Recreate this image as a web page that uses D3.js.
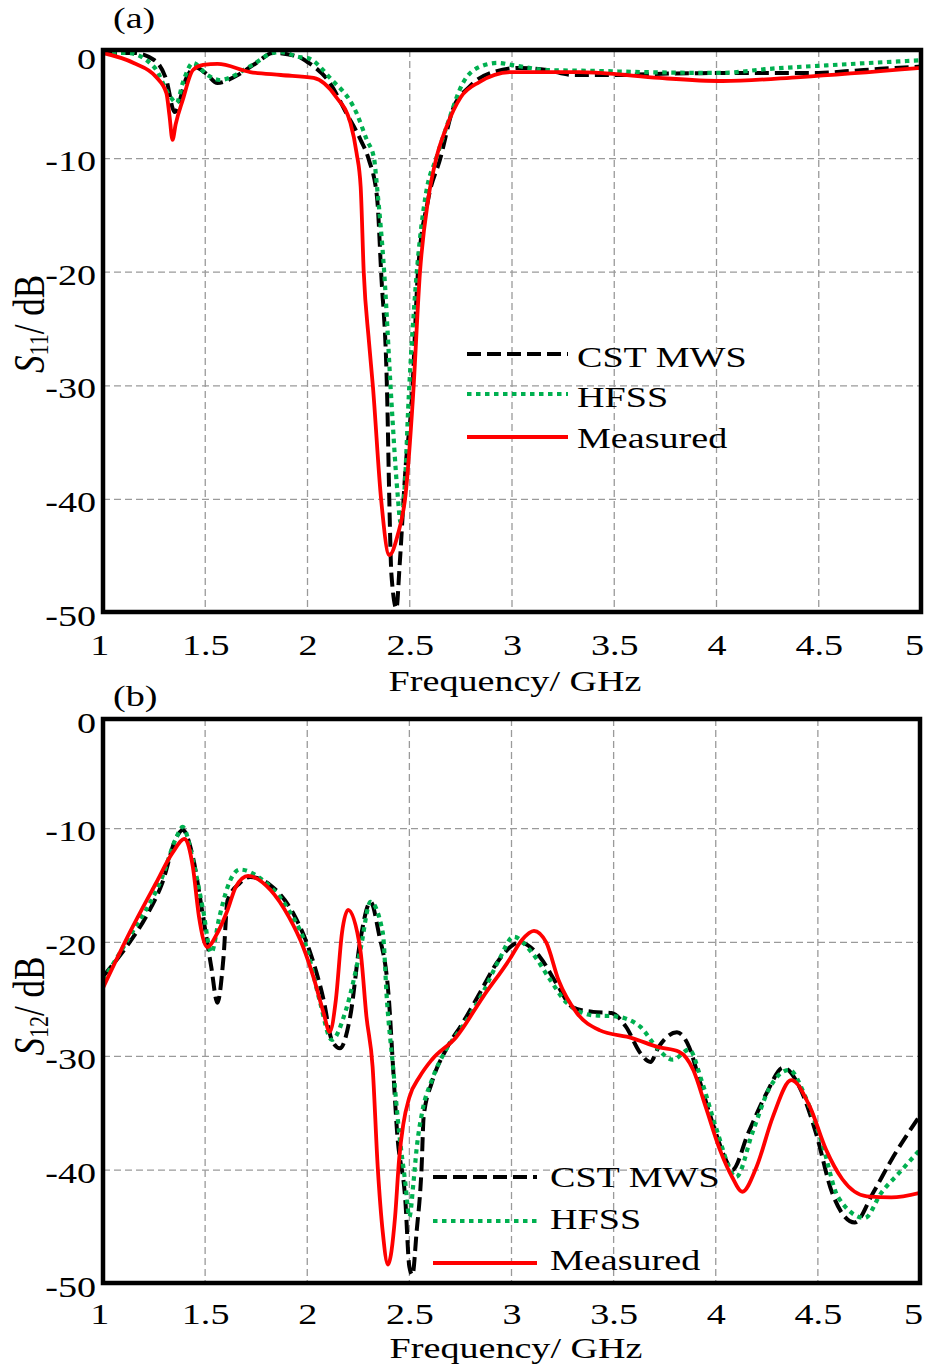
<!DOCTYPE html>
<html><head><meta charset="utf-8">
<script src="https://cdn.jsdelivr.net/npm/d3@7"></script>
<style>
body{margin:0;background:#fff}
text{font-family:"Liberation Serif","Times New Roman",serif;fill:#000}
</style>
</head><body>
<svg id="c" width="925" height="1369"></svg>
<script>
// ---------- tick labels / categories ----------
const xTicks = [1, 1.5, 2, 2.5, 3, 3.5, 4, 4.5, 5];
const xTickLabels = ["1", "1.5", "2", "2.5", "3", "3.5", "4", "4.5", "5"];
const yTicks = [0, -10, -20, -30, -40, -50];
const yTickLabels = ["0", "-10", "-20", "-30", "-40", "-50"];
const seriesNames = ["CST MWS", "HFSS", "Measured"];

// ---------- (a) S11 ----------
const s11CstFreq = [1.0,1.15,1.25,1.31,1.35,1.41,1.45,1.50,1.56,1.65,1.75,1.83,1.96,2.0,2.11,2.19,2.26,2.30,2.34,2.36,2.39,2.40,2.41,2.435,2.45,2.48,2.51,2.54,2.59,2.65,2.71,2.79,2.91,3.04,3.17,3.30,3.50,3.80,4.20,4.50,4.65,4.80,5.0];
const s11CstDb   = [-0.7,-0.7,-1.32,-3.08,-5.9,-2.82,-1.94,-2.46,-3.35,-2.73,-1.58,-0.7,-1.06,-1.5,-3.35,-6.0,-8.36,-10.1,-13.4,-20,-31.25,-40,-46.5,-49.6,-45.95,-37.1,-31.25,-20,-13.6,-9.95,-5.7,-3.7,-2.38,-2.02,-2.2,-2.64,-2.64,-2.5,-2.46,-2.46,-2.29,-2.1,-1.9];

const s11HfssFreq = [1.0,1.12,1.25,1.33,1.36,1.39,1.44,1.51,1.57,1.73,1.83,1.87,1.96,2.0,2.11,2.24,2.29,2.325,2.34,2.375,2.41,2.44,2.455,2.475,2.495,2.53,2.58,2.63,2.68,2.76,2.84,2.93,3.0,3.17,3.43,3.63,4.02,4.25,4.57,4.93,5.0];
const s11HfssDb   = [-0.7,-0.7,-1.94,-4.58,-5.1,-3.35,-1.58,-2.64,-3.08,-1.76,-0.7,-0.62,-1.06,-1.14,-2.9,-6.0,-8.36,-9.95,-12.5,-20,-31.25,-39.4,-42.0,-39,-31,-21,-13,-9.95,-7.2,-3.35,-1.94,-1.58,-1.76,-2.2,-2.29,-2.38,-2.46,-2.11,-1.76,-1.41,-1.35];

const s11MeasFreq = [1.0,1.15,1.26,1.31,1.325,1.34,1.355,1.39,1.44,1.49,1.56,1.72,1.87,2.03,2.14,2.21,2.24,2.26,2.275,2.30,2.32,2.36,2.40,2.44,2.48,2.515,2.55,2.59,2.63,2.68,2.75,2.84,3.0,3.33,3.43,3.72,4.03,4.41,5.0];
const s11MeasDb   = [-0.7,-1.58,-2.82,-4.23,-6.2,-8.36,-7.0,-4.84,-2.2,-1.76,-1.67,-2.38,-2.64,-2.9,-4.58,-6.87,-9.5,-12.5,-20,-26,-30.1,-40,-44.9,-43.2,-39.5,-31.25,-20,-13.6,-9.95,-7.2,-4.58,-3.26,-2.38,-2.38,-2.46,-2.9,-3.17,-2.82,-2.02];

// ---------- (b) S12 ----------
const s12CstFreq = [1.0,1.13,1.21,1.29,1.36,1.39,1.44,1.49,1.53,1.56,1.59,1.61,1.67,1.72,1.83,1.93,2.01,2.08,2.12,2.16,2.21,2.26,2.31,2.35,2.40,2.42,2.44,2.48,2.50,2.515,2.535,2.56,2.57,2.61,2.68,2.76,2.84,2.94,3.04,3.14,3.22,3.30,3.40,3.49,3.56,3.63,3.68,3.72,3.81,3.87,3.92,3.98,4.05,4.08,4.16,4.25,4.33,4.41,4.49,4.57,4.68,4.77,4.86,5.0];
const s12CstDb   = [-23.0,-20.0,-17.76,-14.78,-10.74,-10.12,-12.5,-17.76,-22.15,-25.3,-21.3,-16.3,-14.78,-14.25,-15.13,-17.4,-20.66,-25.05,-28.56,-29.3,-26.54,-19.78,-16.44,-19.17,-25.05,-30.93,-36.7,-42.6,-48.5,-49.2,-45.5,-39.7,-35.3,-32.3,-29.4,-27.1,-24.6,-21.5,-20.0,-21.3,-23.6,-25.7,-26.1,-26.2,-27.4,-29.7,-30.5,-29.2,-27.9,-29.2,-32.1,-35.6,-39.1,-40.0,-36.7,-33.2,-31.0,-32.7,-36.7,-42.0,-44.6,-42.0,-39.1,-35.2];

const s12HfssFreq = [1.0,1.13,1.29,1.36,1.39,1.44,1.49,1.53,1.57,1.61,1.67,1.78,1.90,2.0,2.06,2.12,2.19,2.26,2.31,2.37,2.39,2.42,2.45,2.48,2.50,2.52,2.535,2.565,2.61,2.68,2.76,2.86,2.94,3.01,3.10,3.19,3.27,3.40,3.51,3.63,3.71,3.79,3.87,3.93,4.0,4.10,4.18,4.26,4.36,4.44,4.52,4.60,4.73,4.81,4.90,5.0];
const s12HfssDb   = [-23.3,-19.5,-14.25,-10.74,-9.86,-12.76,-17.15,-20.9,-17.76,-15.13,-13.6,-14.5,-16.9,-20.66,-25.05,-28.56,-25.9,-20.66,-16.44,-19.17,-25.05,-30.93,-36.7,-41.1,-44.1,-41.1,-38.2,-34.7,-32.1,-29.4,-27.4,-24.4,-21.5,-19.5,-20.9,-23.3,-25.3,-26.4,-26.5,-27.4,-29.2,-30.3,-29.4,-32.1,-36.2,-40.6,-36.7,-32.9,-31.2,-33.6,-37.6,-42.4,-44.2,-42.0,-40.2,-38.2];

const s12MeasFreq = [1.0,1.13,1.26,1.34,1.40,1.44,1.47,1.51,1.56,1.61,1.65,1.71,1.82,1.91,1.98,2.03,2.08,2.11,2.14,2.17,2.20,2.26,2.29,2.32,2.345,2.37,2.395,2.43,2.45,2.47,2.50,2.55,2.61,2.73,2.86,2.99,3.05,3.11,3.17,3.23,3.32,3.43,3.59,3.72,3.82,3.89,3.95,4.02,4.08,4.13,4.20,4.28,4.37,4.46,4.54,4.62,4.74,4.86,5.0];
const s12MeasDb   = [-24.0,-19.17,-14.78,-12.14,-10.91,-13.37,-17.76,-20.4,-19.17,-17.15,-15.13,-14.16,-15.39,-17.76,-20.4,-23.03,-26.19,-27.86,-25.05,-19.17,-17.15,-20.66,-26.54,-30.93,-39.71,-45.5,-48.3,-44.1,-39.0,-36.0,-33.6,-31.8,-30.3,-28.3,-24.8,-21.5,-19.8,-18.98,-20.0,-23.3,-26.2,-27.7,-28.4,-29.2,-29.6,-31.2,-34.4,-38.2,-40.6,-41.9,-39.7,-35.3,-32.1,-34.4,-38.2,-40.8,-42.3,-42.4,-42.0];

// ---------- drawing ----------
const svg = d3.select("#c");
const SX = 1.27; // horizontal stretch of the original typography
const styles = [
  {stroke:"#000", width:4, dash:"14,6"},
  {stroke:"#00b050", width:4.2, dash:"4.5,4.5"},
  {stroke:"#ff0000", width:3.8, dash:null}
];

function drawPanel(cfg, data) {
  const g = svg.append("g");
  const x = d3.scaleLinear().domain([1, 5]).range([cfg.left, cfg.right]);
  const y = d3.scaleLinear().domain([-50, 0]).range([cfg.y50, cfg.y0]);

  // grid
  g.append("g").selectAll("line").data(xTicks.slice(1, -1)).join("line")
    .attr("x1", d => x(d)).attr("x2", d => x(d))
    .attr("y1", cfg.top).attr("y2", cfg.bottom)
    .attr("stroke", "#9a9a9a").attr("stroke-width", 1.3).attr("stroke-dasharray", "7,4");
  g.append("g").selectAll("line").data(yTicks.slice(1, -1)).join("line")
    .attr("x1", cfg.left).attr("x2", cfg.right)
    .attr("y1", d => y(d)).attr("y2", d => y(d))
    .attr("stroke", "#9a9a9a").attr("stroke-width", 1.3).attr("stroke-dasharray", "7,4");

  // clip
  const cid = "clip" + cfg.id;
  svg.append("defs").append("clipPath").attr("id", cid).append("rect")
    .attr("x", cfg.left).attr("y", cfg.top)
    .attr("width", cfg.right - cfg.left).attr("height", cfg.bottom - cfg.top);

  const line = d3.line().x(d => x(d[0])).y(d => y(d[1])).curve(d3.curveMonotoneX);
  const cg = g.append("g").attr("clip-path", `url(#${cid})`);
  data.forEach((s, i) => {
    const pts = s.f.map((f, k) => [f, s.v[k]]);
    cg.append("path").attr("d", line(pts)).attr("fill", "none")
      .attr("stroke", styles[i].stroke).attr("stroke-width", styles[i].width)
      .attr("stroke-dasharray", styles[i].dash).attr("stroke-linejoin", "round");
  });

  // border
  g.append("rect").attr("x", cfg.left).attr("y", cfg.top)
    .attr("width", cfg.right - cfg.left).attr("height", cfg.bottom - cfg.top)
    .attr("fill", "none").attr("stroke", "#000").attr("stroke-width", 4.5);

  // x axis labels
  const xa = g.append("g").attr("transform", `translate(0,${cfg.bottom})`)
    .call(d3.axisBottom(x).tickValues(xTicks).tickFormat((d, i) => xTickLabels[i]).tickSize(0));
  xa.select(".domain").remove();
  xa.attr("font-family", null).attr("font-size", 30);
  xa.selectAll("text").attr("y", cfg.xLabBase).attr("dy", null)
    .attr("x", (d, i) => i === 0 ? -3 : (i === xTicks.length - 1 ? 2 : 0))
    .attr("text-anchor", (d, i) => i === xTicks.length - 1 ? "end" : "middle")
    .attr("transform", `scale(${SX},1)`).attr("fill", "#000");

  // y axis labels
  const ya = g.append("g").attr("transform", `translate(${cfg.left},0)`)
    .call(d3.axisLeft(y).tickValues(yTicks).tickFormat((d, i) => yTickLabels[i]).tickSize(0));
  ya.select(".domain").remove();
  ya.attr("font-family", null).attr("font-size", 30);
  ya.selectAll("text").attr("x", 0).attr("dy", null)
    .attr("y", d => d === 0 ? cfg.zeroBase - y(0) : 12)
    .attr("transform", `translate(${cfg.yLabRight - cfg.left},0) scale(${SX},1)`).attr("fill", "#000");

  // x title
  g.append("text").attr("transform", `translate(${cfg.xTitleX},${cfg.xTitleBase}) scale(${SX},1)`)
    .attr("text-anchor", "middle").attr("font-size", 30).text("Frequency/ GHz");

  // panel tag
  g.append("text").attr("transform", `translate(${cfg.tagX},${cfg.tagBase}) scale(${SX},1)`)
    .attr("font-size", 30).text(cfg.tag);

  // y title
  const yt = g.append("text")
    .attr("transform", `translate(${cfg.yTitleBase},${cfg.yTitleY}) rotate(-90) scale(1,${SX})`)
    .attr("text-anchor", "middle").attr("font-size", 35);
  yt.append("tspan").attr("font-style", "italic").text("S");
  yt.append("tspan").attr("font-size", 22).attr("dy", 3).text(cfg.sub);
  yt.append("tspan").attr("dy", -3).text("/ dB");
}

function drawLegend(cfg) {
  seriesNames.forEach((n, i) => {
    const ly = cfg.legY[i];
    svg.append("line").attr("x1", cfg.legX1).attr("x2", cfg.legX2)
      .attr("y1", ly).attr("y2", ly)
      .attr("stroke", styles[i].stroke).attr("stroke-width", styles[i].width)
      .attr("stroke-dasharray", styles[i].dash);
    svg.append("text").attr("transform", `translate(${cfg.legTextX},${cfg.legBase[i]}) scale(${SX},1)`)
      .attr("font-size", 30).text(n);
  });
}

drawPanel({
  id: "a", left: 103, right: 921, top: 50, bottom: 612, y0: 45, y50: 613,
  xLabBase: 43, yLabRight: 96, zeroBase: 68,
  xTitleX: 515, xTitleBase: 691, tag: "(a)", tagX: 113, tagBase: 28,
  yTitleBase: 44, yTitleY: 324, sub: "11"
}, [
  {f: s11CstFreq, v: s11CstDb},
  {f: s11HfssFreq, v: s11HfssDb},
  {f: s11MeasFreq, v: s11MeasDb}
]);
drawLegend({legX1: 467, legX2: 568, legY: [354, 394, 437], legTextX: 577, legBase: [367, 407, 448]});

drawPanel({
  id: "b", left: 103, right: 920, top: 719, bottom: 1283, y0: 714.7, y50: 1284,
  xLabBase: 41, yLabRight: 96, zeroBase: 732,
  xTitleX: 516, xTitleBase: 1358, tag: "(b)", tagX: 113, tagBase: 706,
  yTitleBase: 44, yTitleY: 1006, sub: "12"
}, [
  {f: s12CstFreq, v: s12CstDb},
  {f: s12HfssFreq, v: s12HfssDb},
  {f: s12MeasFreq, v: s12MeasDb}
]);
drawLegend({legX1: 433, legX2: 537, legY: [1177, 1221, 1263], legTextX: 550, legBase: [1187, 1229, 1270]});
</script>
</body></html>
